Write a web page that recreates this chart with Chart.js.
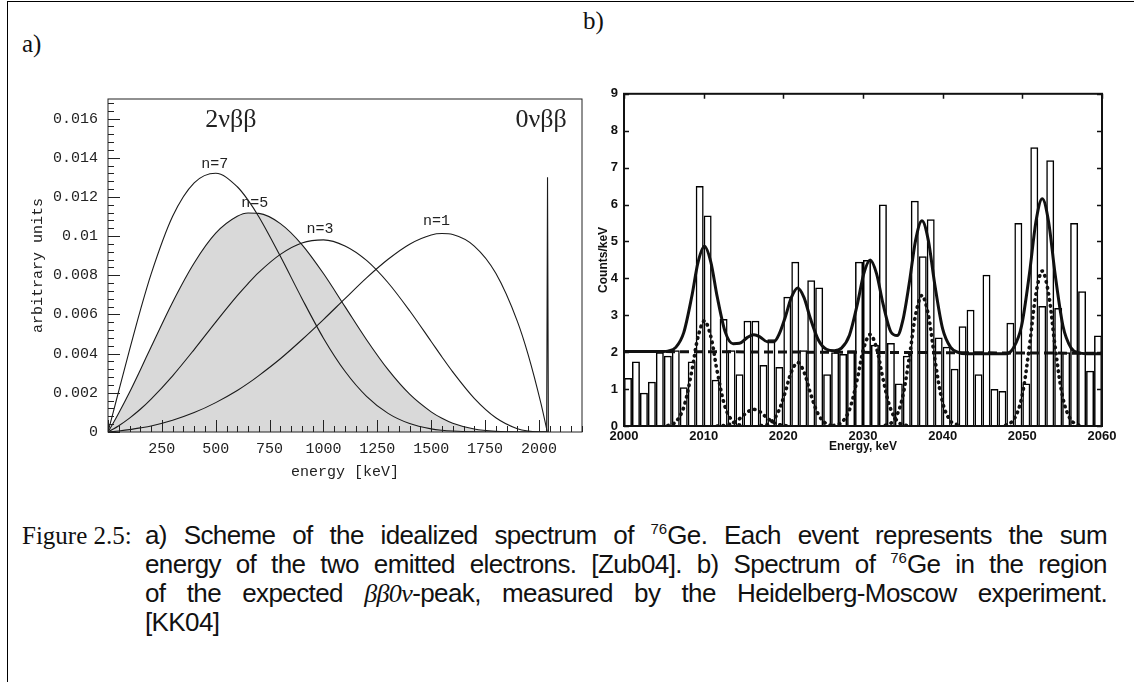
<!DOCTYPE html>
<html>
<head>
<meta charset="utf-8">
<script src="https://cdn.jsdelivr.net/npm/chart.js@4.4.0/dist/chart.umd.min.js"></script>
<style>
  body { margin: 0; background: #fff; width: 1134px; height: 682px; overflow: hidden; position: relative; }
  #frame { position: absolute; left: 7px; top: 1px; width: 1140px; height: 700px; border-left: 1px solid #000; border-top: 1px solid #000; }
  canvas { position: absolute; }
  #ca { left: 0; top: 80px; }
  #cb { left: 590px; top: 80px; }
  .tag { position: absolute; font-family: "Liberation Serif", serif; font-size: 25px; color: #111; }
  .cap { position: absolute; left: 145px; width: 962px; font-family: "Liberation Sans", sans-serif; font-size: 26px; letter-spacing: -0.6px; line-height: 29px; color: #111; }
  .j { text-align: justify; text-align-last: justify; }
  .cap sup { font-size: 15px; vertical-align: 10px; line-height: 0; letter-spacing: 0; }
  .m { font-family: "Liberation Serif", serif; font-style: italic; }
  .fig { position: absolute; left: 22px; top: 521px; font-family: "Liberation Serif", serif; font-size: 25px; line-height: 29px; color: #111; }
</style>
</head>
<body>
<div id="frame"></div>
<div class="tag" style="left:22px;top:30px">a)</div>
<div class="tag" style="left:583px;top:7px">b)</div>
<canvas id="ca" width="600" height="420"></canvas>
<canvas id="cb" width="544" height="400"></canvas>
<div class="fig">Figure 2.5:</div>
<div class="cap j" style="top:521px">a) Scheme of the idealized spectrum of <sup>76</sup>Ge. Each event represents the sum</div>
<div class="cap j" style="top:550px">energy of the two emitted electrons. [Zub04]. b) Spectrum of <sup>76</sup>Ge in the region</div>
<div class="cap j" style="top:579px">of the expected <span class="m">ββ0ν</span>-peak, measured by the Heidelberg-Moscow experiment.</div>
<div class="cap" style="top:608px">[KK04]</div>

<script>
// ---- a) idealized sum-energy spectra (read off the plot) ----
var energyA = [0, 25, 50, 100, 150, 200, 300, 400, 500, 600, 650, 700, 800, 900, 1000, 1100, 1200, 1300, 1400, 1500, 1550, 1600, 1700, 1800, 1900, 1950, 2010, 2039];
var n7 = [0, 0.00104, 0.00210, 0.00419, 0.00621, 0.00806, 0.01101, 0.01272, 0.01321, 0.01252, 0.01184, 0.01099, 0.00897, 0.00682, 0.00479, 0.00310, 0.00182, 0.00095, 0.00043, 0.00016, 0.00009, 0.00005, 0.00001, 0, 0, 0, 0, 0];
var n5 = [0, 0.00047, 0.00097, 0.00203, 0.00317, 0.00434, 0.00663, 0.00863, 0.01015, 0.01101, 0.01118, 0.01116, 0.01064, 0.00957, 0.00809, 0.00640, 0.00471, 0.00318, 0.00193, 0.00103, 0.00070, 0.00045, 0.00015, 0.00003, 0, 0, 0, 0];
var n3 = [0, 0.00015, 0.00032, 0.00071, 0.00116, 0.00168, 0.00287, 0.00421, 0.00561, 0.00696, 0.00758, 0.00815, 0.00907, 0.00965, 0.00981, 0.00950, 0.00876, 0.00762, 0.00619, 0.00462, 0.00383, 0.00307, 0.00172, 0.00073, 0.00017, 0.00005, 0, 0];
var n1 = [0, 0.00002, 0.00005, 0.00012, 0.00021, 0.00031, 0.00060, 0.00099, 0.00150, 0.00212, 0.00248, 0.00288, 0.00374, 0.00471, 0.00574, 0.00681, 0.00787, 0.00882, 0.00959, 0.01006, 0.01013, 0.01008, 0.00949, 0.00810, 0.00565, 0.00395, 0.00143, 0];
var spikeE = [2036, 2040, 2044];
var spikeY = [0, 0.013, 0];
var ticksAx = [250, 500, 750, 1000, 1250, 1500, 1750, 2000];
var ticksAy = [0, 0.002, 0.004, 0.006, 0.008, 0.01, 0.012, 0.014, 0.016];

// ---- b) Heidelberg-Moscow spectrum, 1 keV bins from 2000 keV ----
var binLo = 2000;
var counts = [1.3, 1.75, 0.9, 1.2, 2.0, 1.9, 2.05, 1.05, 1.75, 6.5,
  5.7, 1.25, 2.9, 2.05, 1.4, 2.85, 2.85, 1.65, 2.35, 1.6,
  3.5, 4.45, 2.05, 3.95, 3.75, 1.4, 2.0, 1.95, 2.05, 4.45,
  4.5, 2.2, 6.0, 2.25, 1.15, 1.9, 6.1, 4.6, 5.6, 2.4,
  2.15, 1.55, 2.7, 3.15, 1.4, 4.1, 1.0, 0.95, 2.8, 5.5,
  1.15, 7.55, 3.25, 7.2, 3.2, 2.0, 5.5, 3.65, 1.5, 2.45];
var fitE = [2000, 2005, 2005.5, 2006.5, 2007.5, 2008.5, 2009.3, 2010.1, 2010.9, 2011.7, 2012.7, 2013.7, 2014.5, 2015.5, 2016.3, 2017.1, 2018.0, 2018.8, 2019.5, 2020.2, 2021.0, 2021.8, 2022.6, 2023.4, 2024.4, 2025.4, 2026.4, 2027.3, 2028.3, 2029.3, 2030.1, 2030.9, 2031.7, 2032.5, 2033.5, 2034.3, 2035.0, 2035.8, 2036.6, 2037.4, 2038.2, 2039.0, 2040.0, 2041.0, 2042.0, 2043.0, 2048.0, 2048.9, 2049.9, 2050.9, 2051.7, 2052.5, 2053.3, 2054.1, 2055.1, 2056.1, 2057.1, 2058.0, 2060.0];
var fitY = [2.02, 2.02, 2.03, 2.13, 2.53, 3.50, 4.44, 4.87, 4.44, 3.50, 2.55, 2.23, 2.24, 2.40, 2.47, 2.41, 2.28, 2.28, 2.50, 2.92, 3.48, 3.74, 3.48, 2.91, 2.33, 2.08, 2.04, 2.11, 2.46, 3.31, 4.13, 4.50, 4.13, 3.32, 2.55, 2.45, 2.86, 3.86, 5.03, 5.56, 5.03, 3.85, 2.63, 2.13, 1.99, 1.96, 1.96, 2.12, 2.71, 4.14, 5.53, 6.16, 5.53, 4.14, 2.71, 2.12, 1.98, 1.96, 1.96];
var bgE = [2000, 2060];
var bgY = [2.02, 1.97];
// single peak components (dotted)
var p2010E = [2005.5, 2006.5, 2007.5, 2008.5, 2009.3, 2010.1, 2010.9, 2011.7, 2012.7, 2013.7, 2014.7];
var p2010Y = [0.01, 0.11, 0.51, 1.48, 2.42, 2.85, 2.42, 1.48, 0.51, 0.11, 0.01];
var p2016E = [2011.7, 2012.7, 2013.7, 2014.7, 2015.5, 2016.3, 2017.1, 2017.9, 2018.9, 2019.9, 2020.9];
var p2016Y = [0, 0.02, 0.08, 0.23, 0.38, 0.45, 0.38, 0.23, 0.08, 0.02, 0];
var p2022E = [2017.2, 2018.2, 2019.2, 2020.2, 2021.0, 2021.8, 2022.6, 2023.4, 2024.4, 2025.4, 2026.4];
var p2022Y = [0.01, 0.06, 0.31, 0.89, 1.46, 1.72, 1.46, 0.89, 0.31, 0.06, 0.01];
var p2031E = [2026.3, 2027.3, 2028.3, 2029.3, 2030.1, 2030.9, 2031.7, 2032.5, 2033.5, 2034.5, 2035.5];
var p2031Y = [0.01, 0.09, 0.44, 1.29, 2.11, 2.48, 2.11, 1.29, 0.44, 0.09, 0.01];
var p2037E = [2032.8, 2033.8, 2034.8, 2035.8, 2036.6, 2037.4, 2038.2, 2039.0, 2040.0, 2041.0, 2042.0];
var p2037Y = [0.02, 0.13, 0.63, 1.84, 3.01, 3.54, 3.01, 1.84, 0.63, 0.13, 0.02];
var p2052E = [2047.9, 2048.9, 2049.9, 2050.9, 2051.7, 2052.5, 2053.3, 2054.1, 2055.1, 2056.1, 2057.1];
var p2052Y = [0.02, 0.16, 0.75, 2.18, 3.57, 4.2, 3.57, 2.18, 0.75, 0.16, 0.02];
var ticksBx = [2000, 2010, 2020, 2030, 2040, 2050, 2060];
var ticksBy = [0, 1, 2, 3, 4, 5, 6, 7, 8, 9];

function pts(xs, ys) {
  return xs.map(function(x, i) { return {x: x, y: ys[i]}; });
}

// frame, inward tick marks and text labels, all placed through the scales
var boxTicks = {
  id: 'boxTicks',
  afterDatasetsDraw: function(chart, args, o) {
    var ctx = chart.ctx, a = chart.chartArea;
    ctx.save();
    ctx.strokeStyle = o.color;
    ctx.lineWidth = o.frameWidth;
    ctx.strokeRect(a.left, a.top, a.right - a.left, a.bottom - a.top);
    ctx.lineWidth = o.tickWidth;
    ctx.beginPath();
    (o.marks || []).forEach(function(m) {
      var s = chart.scales[m.axis];
      for (var i = 0; ; i++) {
        var v = m.from + i * m.step;
        if (v > m.to + m.step * 1e-6) break;
        var p = Math.round(s.getPixelForValue(v)) + 0.5;
        if (m.side === 'bottom') { ctx.moveTo(p, a.bottom); ctx.lineTo(p, a.bottom - m.len); }
        if (m.side === 'top') { ctx.moveTo(p, a.top); ctx.lineTo(p, a.top + m.len); }
        if (m.side === 'left') { ctx.moveTo(a.left, p); ctx.lineTo(a.left + m.len, p); }
        if (m.side === 'right') { ctx.moveTo(a.right, p); ctx.lineTo(a.right - m.len, p); }
      }
    });
    ctx.stroke();
    ctx.fillStyle = o.color;
    ctx.textAlign = 'center';
    ctx.textBaseline = 'middle';
    (o.texts || []).forEach(function(t) {
      ctx.font = t.font;
      ctx.fillText(t.text, chart.scales.x.getPixelForValue(t.x), chart.scales.y.getPixelForValue(t.y));
    });
    ctx.restore();
  }
};

var mono = 'Liberation Mono';

function curve(data, extra) {
  var d = {data: data, borderColor: '#1a1a1a', borderWidth: 1.1, pointRadius: 0,
    cubicInterpolationMode: 'monotone', fill: false};
  for (var k in extra) d[k] = extra[k];
  return d;
}

new Chart(document.getElementById('ca'), {
  type: 'line',
  data: {
    datasets: [
      curve(pts(energyA, n7)),
      curve(pts(energyA, n3)),
      curve(pts(energyA, n1)),
      curve(pts(spikeE, spikeY), {cubicInterpolationMode: 'default', tension: 0}),
      curve(pts(energyA, n5), {fill: 'origin', backgroundColor: '#d9d9d9'})
    ]
  },
  options: {
    responsive: false,
    animation: false,
    layout: {padding: {left: 0, top: 17, right: 18, bottom: 12}},
    plugins: {
      legend: {display: false},
      tooltip: {enabled: false},
      boxTicks: {
        color: '#222', frameWidth: 1, tickWidth: 1,
        marks: [
          {axis: 'x', side: 'bottom', from: 0, to: 2200, step: 250, len: 12},
          {axis: 'x', side: 'bottom', from: 0, to: 2200, step: 50, len: 6},
          {axis: 'y', side: 'left', from: 0, to: 0.0168, step: 0.002, len: 12},
          {axis: 'y', side: 'left', from: 0, to: 0.0168, step: 0.0004, len: 6}
        ],
        texts: [
          {text: '2νββ', x: 570, y: 0.0159, font: '26px "Liberation Serif"'},
          {text: '0νββ', x: 2010, y: 0.0159, font: '26px "Liberation Serif"'},
          {text: 'n=7', x: 496, y: 0.0137, font: '15px "Liberation Mono"'},
          {text: 'n=5', x: 681, y: 0.0117, font: '15px "Liberation Mono"'},
          {text: 'n=3', x: 984, y: 0.01035, font: '15px "Liberation Mono"'},
          {text: 'n=1', x: 1525, y: 0.01077, font: '15px "Liberation Mono"'}
        ]
      }
    },
    scales: {
      x: {
        type: 'linear', min: 0, max: 2200,
        grid: {display: false, drawTicks: false}, border: {display: false},
        afterBuildTicks: function(s) { s.ticks = ticksAx.map(function(v) { return {value: v}; }); },
        afterFit: function(s) { s.height = 56; },
        ticks: {padding: 8, color: '#222', font: {family: mono, size: 15}, maxRotation: 0,
          callback: function(v) { return String(v); }},
        title: {display: true, text: 'energy [keV]', color: '#222', font: {family: mono, size: 15}, padding: {top: 0, bottom: 7}}
      },
      y: {
        min: 0, max: 0.017,
        grid: {display: false, drawTicks: false}, border: {display: false},
        afterBuildTicks: function(s) { s.ticks = ticksAy.map(function(v) { return {value: v}; }); },
        afterFit: function(s) { s.width = 108; },
        ticks: {padding: 10, color: '#222', font: {family: mono, size: 15},
          callback: function(v) { return String(v); }},
        title: {display: true, text: 'arbitrary units', color: '#222', font: {family: mono, size: 15}, padding: {top: 29, bottom: 0}}
      }
    }
  },
  plugins: [boxTicks]
});

var dotted = {borderColor: '#111', borderWidth: 3.6, borderDash: [0.5, 5.5], borderCapStyle: 'round', tension: 0.35};

new Chart(document.getElementById('cb'), {
  type: 'bar',
  data: {
    datasets: [
      {type: 'line', data: pts(fitE, fitY), borderColor: '#111', borderWidth: 3, pointRadius: 0, cubicInterpolationMode: 'monotone'},
      {type: 'line', data: pts(bgE, bgY), borderColor: '#111', borderWidth: 3, borderDash: [9, 5], pointRadius: 0},
      Object.assign({type: 'line', data: pts(p2010E, p2010Y), pointRadius: 0}, dotted),
      Object.assign({type: 'line', data: pts(p2016E, p2016Y), pointRadius: 0}, dotted),
      Object.assign({type: 'line', data: pts(p2022E, p2022Y), pointRadius: 0}, dotted),
      Object.assign({type: 'line', data: pts(p2031E, p2031Y), pointRadius: 0}, dotted),
      Object.assign({type: 'line', data: pts(p2037E, p2037Y), pointRadius: 0}, dotted),
      Object.assign({type: 'line', data: pts(p2052E, p2052Y), pointRadius: 0}, dotted),
      {type: 'bar', data: counts.map(function(c, i) { return {x: binLo + i + 0.5, y: c}; }),
        backgroundColor: 'rgba(0,0,0,0)', borderColor: '#000', borderWidth: 1.5,
        barPercentage: 1, categoryPercentage: 1, inflateAmount: 0}
    ]
  },
  options: {
    responsive: false,
    animation: false,
    layout: {padding: {left: 0, top: 13, right: 32, bottom: 26}},
    plugins: {
      legend: {display: false},
      tooltip: {enabled: false},
      boxTicks: {
        color: '#111', frameWidth: 2, tickWidth: 1.5,
        marks: [
          {axis: 'x', side: 'top', from: 2000, to: 2060, step: 10, len: 5},
          {axis: 'y', side: 'left', from: 0, to: 9, step: 1, len: 5},
          {axis: 'y', side: 'right', from: 0, to: 9, step: 1, len: 5}
        ]
      }
    },
    scales: {
      x: {
        type: 'linear', min: 2000, max: 2060, offset: false,
        grid: {display: false, drawTicks: false}, border: {display: false},
        afterBuildTicks: function(s) { s.ticks = ticksBx.map(function(v) { return {value: v}; }); },
        afterFit: function(s) { s.height = 28; },
        ticks: {padding: 3, color: '#111', font: {family: 'Liberation Sans', size: 13, weight: 'bold'}, maxRotation: 0,
          callback: function(v) { return String(v); }},
        title: {display: true, text: 'Energy, keV', color: '#111', font: {family: 'Liberation Sans', size: 12, weight: 'bold'}, padding: {top: 0, bottom: 0}}
      },
      y: {
        min: 0, max: 9,
        grid: {display: false, drawTicks: false}, border: {display: false},
        afterBuildTicks: function(s) { s.ticks = ticksBy.map(function(v) { return {value: v}; }); },
        afterFit: function(s) { s.width = 34; },
        ticks: {padding: 6, color: '#111', font: {family: 'Liberation Sans', size: 13, weight: 'bold'}},
        title: {display: true, text: 'Counts/keV', color: '#111', font: {family: 'Liberation Sans', size: 12, weight: 'bold'}, padding: {top: 6, bottom: 0}}
      }
    }
  },
  plugins: [boxTicks]
});
</script>
</body>
</html>
